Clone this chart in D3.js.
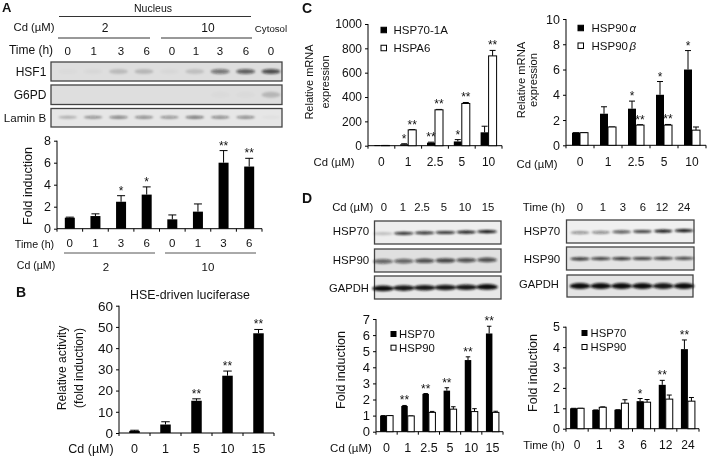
<!DOCTYPE html>
<html><head><meta charset="utf-8">
<script src="https://cdnjs.cloudflare.com/ajax/libs/d3/7.8.5/d3.min.js"></script>
<style>
html,body{margin:0;padding:0;background:#fff}
svg{display:block;filter:blur(0.3px)}
text{font-family:"Liberation Sans",Arial,sans-serif;fill:#111}
</style></head><body>
<svg id="c" width="707" height="457"></svg>
<script>
// ---------- data ----------
const timeA = ["0","1","3","6","0","1","3","6"];
const foldA = [1,1.15,2.45,3.1,0.85,1.55,6,5.65];
const foldAErr = [0.05,0.2,0.55,0.7,0.4,0.7,1.1,0.75];
const foldASig = ["","","*","*","","","**","**"];

const doseB = ["0","1","5","10","15"];
const lucB = [1,4,15.2,27,47];
const lucBErr = [0.3,1.3,0.9,2.2,1.8];
const lucBSig = ["","","**","**","**"];

const doseC = ["0","1","2.5","5","10"];
const hsp701a = [1,12,25,35,110];
const hsp701aErr = [0,4,4,15,50];
const hsp701aSig = ["","*","**","*",""];
const hspa6 = [2,130,295,347,738];
const hspa6Err = [0,3,3,8,45];
const hspa6Sig = ["","**","**","**","**"];

const hsp90a = [1,2.5,2.9,4,6];
const hsp90aErr = [0,0.55,0.6,1.05,1.5];
const hsp90aSig = ["","","*","*","*"];
const hsp90b = [1,1.45,1.6,1.6,1.2];
const hsp90bErr = [0,0,0.03,0.05,0.25];
const hsp90bSig = ["","","**","**",""];

const doseD = ["0","1","2.5","5","10","15"];
const d70 = [1,1.6,2.35,2.55,4.45,6.1];
const d70Err = [0,0.03,0.02,0.18,0.2,0.45];
const d70Sig = ["","**","**","**","**","**"];
const d90 = [1,0.98,1.2,1.4,1.25,1.2];
const d90Err = [0,0,0.06,0.15,0.18,0.07];

const timeD = ["0","1","3","6","12","24"];
const t70 = [1,0.92,0.93,1.35,2.15,3.9];
const t70Err = [0,0,0,0.13,0.22,0.45];
const t70Sig = ["","","","*","**","**"];
const t90 = [1,1.05,1.25,1.3,1.45,1.35];
const t90Err = [0,0.02,0.17,0.13,0.2,0.18];

// western-blot band densities (0..1)
const blotHSF1 = [0.02,0.03,0.16,0.18,0.03,0.14,0.5,0.62,0.7];
const blotG6PD = [0,0,0,0,0,0,0.02,0.02,0.18];
const blotLamin = [0.25,0.4,0.5,0.45,0.4,0.55,0.45,0.45,0.03];
const blotD70 = [0.2,0.85,0.85,0.85,0.95,1];
const blotD90 = [0.6,0.6,0.7,0.75,0.7,0.7];
const blotDG = [1,0.95,0.95,0.95,0.95,1];
const blotT70 = [0.4,0.45,0.7,0.8,1,1];
const blotT90 = [0.85,0.8,0.85,0.8,0.8,0.75];
const blotTG = [1,1,1,1,0.95,1];

// ---------- helpers ----------
const svg = d3.select("#c");
const defs = svg.append("defs");
defs.append("filter").attr("id","b").attr("x","-30%").attr("y","-100%").attr("width","160%").attr("height","300%")
  .append("feGaussianBlur").attr("stdDeviation","1.2 1");
function T(x,y,s,o={}){
  const t = svg.append("text").attr("x",x).attr("y",y).text(s)
    .attr("font-size",o.size||11).attr("text-anchor",o.anchor||"middle");
  if(o.bold) t.attr("font-weight","bold");
  if(o.italic) t.attr("font-style","italic");
  if(o.rot) t.attr("transform",`rotate(${o.rot} ${x} ${y})`);
  return t;
}
function L(x1,y1,x2,y2,c="#333",w=1){
  svg.append("line").attr("x1",x1).attr("y1",y1).attr("x2",x2).attr("y2",y2).attr("stroke",c).attr("stroke-width",w);
}
function chart(o){
  const x = d3.scaleBand().domain(d3.range(o.cats.length)).range([o.x0,o.x1]);
  const y = d3.scaleLinear().domain([0,o.max]).range([o.y0,o.y1]);
  const g = svg.append("g");
  const ax = g.append("g").attr("transform",`translate(${o.x0},0)`)
    .call(d3.axisLeft(y).tickValues(d3.range(0,o.max+1e-6,o.step)).tickFormat(d3.format("d")).tickSize(3).tickSizeOuter(0).tickPadding(3));
  ax.selectAll("text").attr("font-size",o.tickSize||12);
  const bx = g.append("g").attr("transform",`translate(0,${o.y0})`);
  bx.append("line").attr("x1",o.x0).attr("x2",o.x1).attr("stroke","#000");
  bx.selectAll("line.t").data(d3.range(o.cats.length+1)).join("line").attr("class","t")
    .attr("x1",i=>i<o.cats.length?x(i):o.x1).attr("x2",i=>i<o.cats.length?x(i):o.x1)
    .attr("y1",0).attr("y2",3).attr("stroke","#000");
  ax.selectAll("path,line").attr("stroke","#000");
  ax.select(".domain").attr("d",`M0,${o.y1}V${o.y0}`);
  const n = o.series.length, bw = o.bw;
  o.series.forEach((s,k)=>{
    const off = n===1 ? -bw/2 : (k===0?-bw:0);
    const sg = g.append("g");
    const cx = i => x(i)+x.bandwidth()/2+off+bw/2;
    sg.selectAll("line.e").data(s.v).join("line")
      .attr("x1",(d,i)=>cx(i)).attr("x2",(d,i)=>cx(i))
      .attr("y1",d=>y(d)).attr("y2",(d,i)=>y(d+s.err[i])).attr("stroke","#000");
    sg.selectAll("line.c").data(s.v).join("line")
      .attr("x1",(d,i)=>cx(i)-bw/2+1).attr("x2",(d,i)=>cx(i)+bw/2-1)
      .attr("y1",(d,i)=>y(d+s.err[i])).attr("y2",(d,i)=>y(d+s.err[i])).attr("stroke","#000");
    sg.selectAll("rect").data(s.v).join("rect")
      .attr("x",(d,i)=>cx(i)-bw/2).attr("y",d=>y(d))
      .attr("width",bw).attr("height",d=>o.y0-y(d))
      .attr("fill",s.fill).attr("stroke","#000").attr("stroke-width",s.fill==="#000"?0:1);
    (s.sig||[]).forEach((t,i)=>{ if(t) T(cx(i),y(s.v[i]+s.err[i])-1,t,{size:12}); });
  });
  const xl = o.labY || o.y0+17;
  o.cats.forEach((c,i)=>T(x(i)+x.bandwidth()/2,xl,c,{size:o.catSize||11}));
}
function legend(x,y,s,tx,name,fill,size){
  svg.append("rect").attr("x",x).attr("y",y-s/2).attr("width",s).attr("height",s).attr("fill",fill).attr("stroke","#000");
  return T(tx,y+4,name,{size:size||11.5,anchor:"start"});
}
function blot(x0,x1,y0,y1,lanes,dens,o={}){
  const lane = d3.scalePoint().domain(d3.range(lanes.length)).range([0,1]);
  const cx = d3.scaleLinear().domain([0,1]).range([lanes[0],lanes[lanes.length-1]]);
  svg.append("rect").attr("x",x0).attr("y",y0).attr("width",x1-x0).attr("height",y1-y0)
    .attr("fill",o.bg||"#dedede").attr("stroke","#444").attr("stroke-width",1.3);
  const alpha = d3.scaleLinear().domain([0,1]).range([0,1]);
  svg.append("g").attr("filter","url(#b)").selectAll("ellipse").data(dens).join("ellipse")
    .attr("cx",(d,i)=>cx(lane(i))).attr("cy",(d,i)=>(y0+y1)/2+(o.dy||0)+(o.tilt||0)*(i-lanes.length/2))
    .attr("rx",o.rx||9.5).attr("ry",o.ry||2.2).attr("fill","#111").attr("opacity",d=>alpha(d));
}

// ---------- panel A ----------
T(2,12,"A",{size:13,bold:true,anchor:"start"});
T(153,12,"Nucleus",{size:10.5});
L(59,16.5,251,16.5);
T(34,31,"Cd (µM)",{size:11.3});
T(105,32,"2",{size:12}); T(208,32,"10",{size:12});
T(271,32,"Cytosol",{size:9.7});
L(58,38,150,38); L(161,38,252,38);
T(31,54,"Time (h)",{size:12});
const laneA = [67.7,93.7,121,146.7,172,196,220,246,271];
["0","1","3","6","0","1","3","6","0"].forEach((s,i)=>T(laneA[i],55,s,{size:11.5}));
T(31,76,"HSF1",{size:12}); T(30,99,"G6PD",{size:12}); T(25,122,"Lamin B",{size:11.6});
blot(51,282,62,81,laneA,blotHSF1,{ry:2.6});
blot(51,282,85,104.5,laneA,blotG6PD,{ry:3});
blot(51,282,108.5,127,laneA,blotLamin,{bg:"#e6e6e6",ry:1.4,dy:-0.5});

chart({cats:timeA,x0:57,x1:262,y0:228.7,y1:140.7,max:8,step:2,bw:10,tickSize:12.5,labY:247,catSize:11.5,
  series:[{v:foldA,err:foldAErr,fill:"#000",sig:foldASig}]});
T(32,186,"Fold induction",{size:12.5,rot:-90});
T(34.5,248,"Time (h)",{size:10.7});
T(36,269,"Cd (µM)",{size:10.6});
L(64,253,155,253,"#555"); L(165,253,256,253,"#555");
T(106,271,"2",{size:11.5}); T(208,271,"10",{size:11.5});

// ---------- panel B ----------
T(16,297,"B",{size:14,bold:true,anchor:"start"});
T(190,299,"HSE-driven luciferase",{size:12.4});
chart({cats:doseB,x0:119,x1:274,y0:433,y1:305.7,max:60,step:10,bw:10.5,tickSize:13.5,labY:453,catSize:12.5,
  series:[{v:lucB,err:lucBErr,fill:"#000",sig:lucBSig}]});
T(66,368,"Relative activity",{size:12.2,rot:-90});
T(83,368,"(fold induction)",{size:12.2,rot:-90});
T(91,453,"Cd (µM)",{size:12.5});

// ---------- panel C left ----------
T(302,13,"C",{size:14,bold:true,anchor:"start"});
chart({cats:doseC,x0:368,x1:502,y0:145.7,y1:24,max:1000,step:200,bw:8,tickSize:12,labY:166,catSize:12,
  series:[{v:hsp701a,err:hsp701aErr,fill:"#000",sig:hsp701aSig},{v:hspa6,err:hspa6Err,fill:"#fff",sig:hspa6Sig}]});
T(313,82,"Relative mRNA",{size:11,rot:-90});
T(329,82,"expression",{size:11,rot:-90});
T(334,166,"Cd (µM)",{size:11.3});
legend(381,30,5.5,393.5,"HSP70-1A","#000");
legend(381,48,5.5,393.5,"HSPA6","#fff");

// ---------- panel C right ----------
chart({cats:doseC,x0:566,x1:706,y0:145.3,y1:19,max:10,step:2,bw:8,tickSize:12.5,labY:166,catSize:12,
  series:[{v:hsp90a,err:hsp90aErr,fill:"#000",sig:hsp90aSig},{v:hsp90b,err:hsp90bErr,fill:"#fff",sig:hsp90bSig}]});
T(525,80,"Relative mRNA",{size:11.2,rot:-90});
T(537,80,"expression",{size:11.2,rot:-90});
T(537,168,"Cd (µM)",{size:11.3});
legend(578,28,5.5,591.5,"HSP90","#000");
T(629.5,32,"α",{size:11.5,italic:true,anchor:"start"});
legend(578,45.7,5.5,591.5,"HSP90","#fff");
T(629.5,50,"β",{size:11.5,italic:true,anchor:"start"});

// ---------- panel D blots ----------
T(302,203,"D",{size:14,bold:true,anchor:"start"});
T(352.7,211,"Cd (µM)",{size:11.3});
const laneD = [383,403,423,444,466,487];
doseD.forEach((s,i)=>T([384,403,422,444,465,488][i],211,s,{size:11.3}));
T(351,235,"HSP70",{size:11.5}); T(351,264,"HSP90",{size:11.5}); T(349,292,"GAPDH",{size:11.2});
blot(374.5,501,221,244,laneD,blotD70,{bg:"#eeeeee",ry:1.6,rx:10,tilt:-0.4});
blot(374.5,501,249,272,laneD,blotD90,{bg:"#e0e0e0",ry:2.3,rx:10,tilt:-0.3});
blot(374.5,501,276,299,laneD,blotDG,{bg:"#e8e8e8",ry:2.8,rx:11,tilt:-0.3});

T(544,211,"Time (h)",{size:11.5});
const laneT = [580,603,624,643,662,684];
timeD.forEach((s,i)=>T([580,603,623,643,662,684][i],211,s,{size:11.3}));
T(542,235,"HSP70",{size:11.5}); T(542,263,"HSP90",{size:11.5}); T(539,288,"GAPDH",{size:11.2});
blot(566.5,694,220,243,laneT,blotT70,{bg:"#f0f0f0",ry:1.6,rx:9.5,tilt:-0.4});
blot(566.5,694,247,270,laneT,blotT90,{bg:"#e4e4e4",ry:1.6,rx:10,tilt:-0.1});
blot(567,693,275,297,laneT,blotTG,{bg:"#e4e4e4",ry:3,rx:10.5});

// ---------- panel D left ----------
chart({cats:doseD,x0:376,x1:503,y0:431.7,y1:319,max:7,step:1,bw:6.5,tickSize:13,labY:452,catSize:12.5,
  series:[{v:d70,err:d70Err,fill:"#000",sig:d70Sig},{v:d90,err:d90Err,fill:"#fff"}]});
T(345,370,"Fold induction",{size:12.5,rot:-90});
T(351,452,"Cd (µM)",{size:11.5});
legend(391,334,5,399,"HSP70","#000",11.3);
legend(391,347.7,5,399,"HSP90","#fff",11.3);

// ---------- panel D right ----------
chart({cats:timeD,x0:566,x1:699,y0:428.7,y1:326.7,max:5,step:1,bw:7,tickSize:12.5,labY:449,catSize:12,
  series:[{v:t70,err:t70Err,fill:"#000",sig:t70Sig},{v:t90,err:t90Err,fill:"#fff"}]});
T(537,373,"Fold induction",{size:12.5,rot:-90});
T(544,449,"Time (h)",{size:11.3});
legend(582,333,5,590.5,"HSP70","#000",11.3);
legend(582,347,5,590.5,"HSP90","#fff",11.3);
</script>
</body></html>
